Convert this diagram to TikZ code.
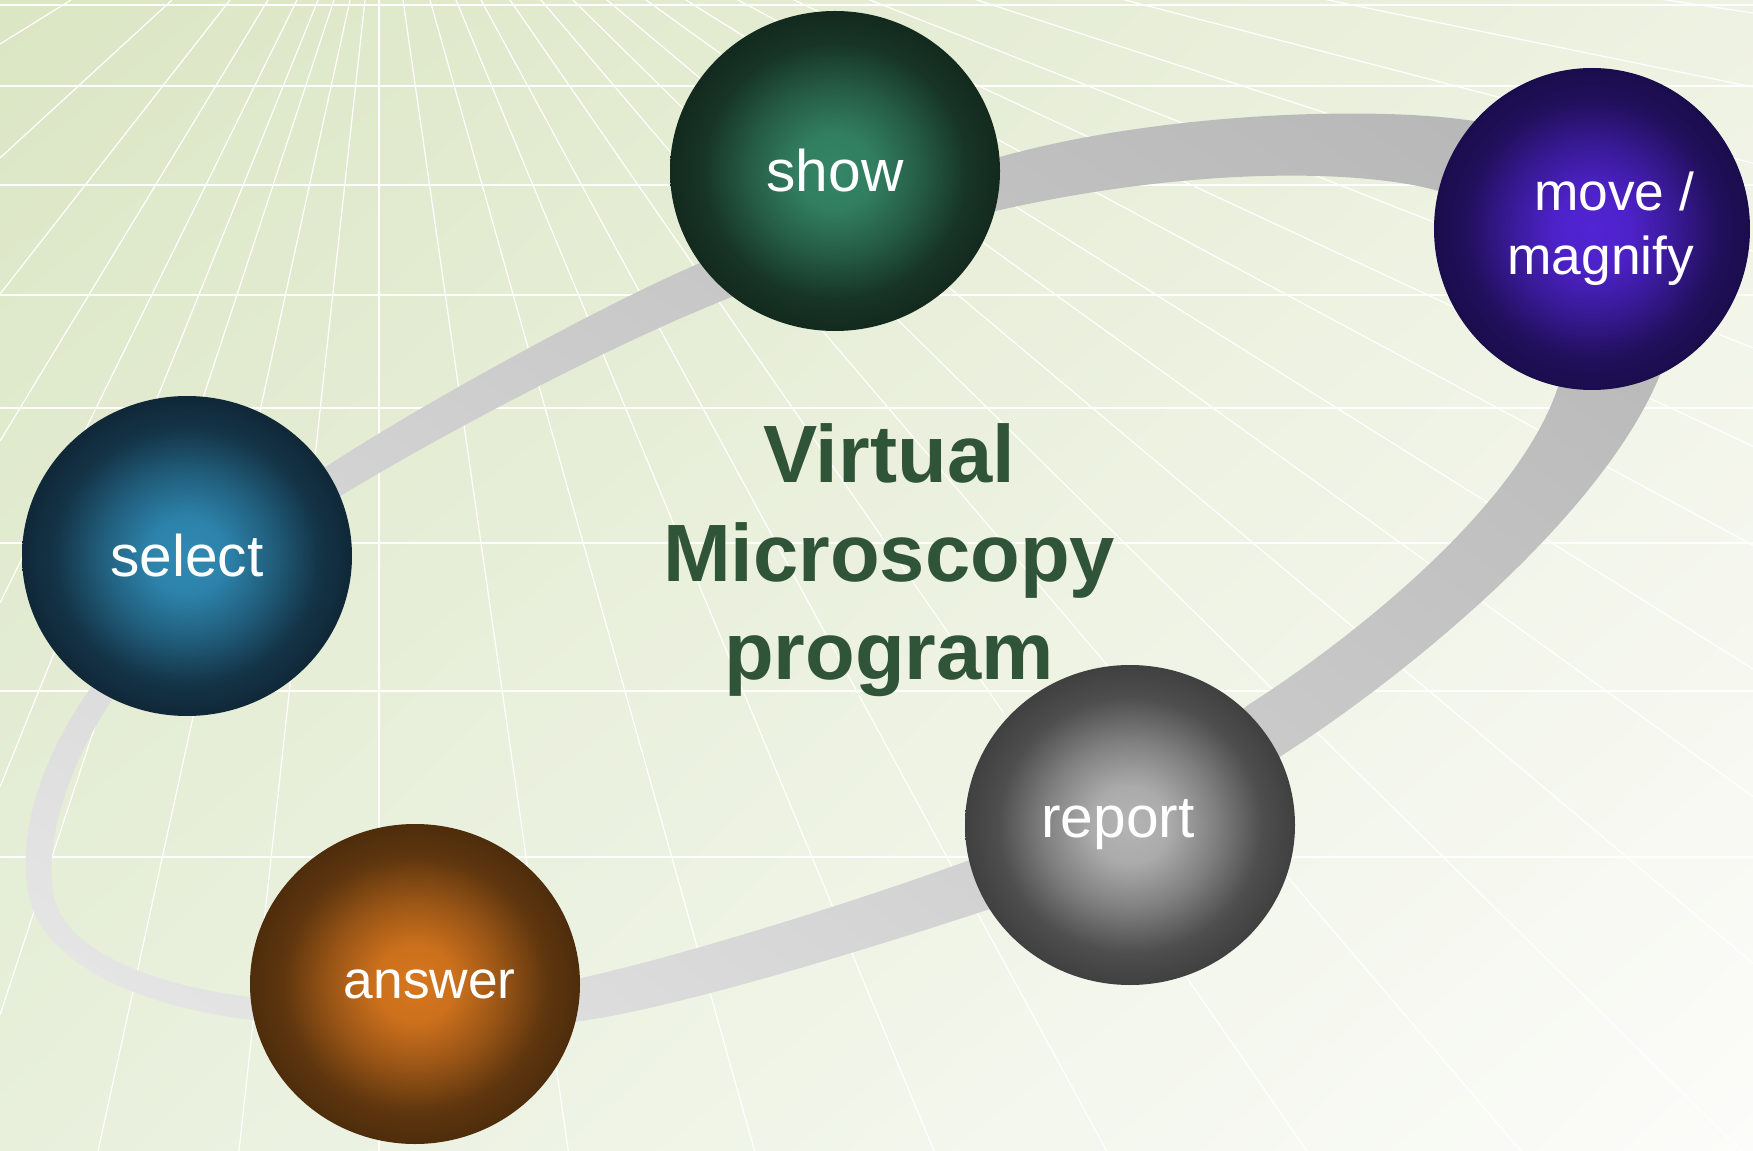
\documentclass[tikz,border=0pt]{standalone}
\usepackage{fontspec}
\setmainfont{Liberation Sans}
\usetikzlibrary{shapes.geometric,shadings}

\definecolor{bgul}{RGB}{219,230,196}
\definecolor{bgur}{RGB}{238,242,226}
\definecolor{bgll}{RGB}{232,240,220}
\definecolor{bglr}{RGB}{252,252,250}
\definecolor{ringul}{RGB}{205,205,205}
\definecolor{ringur}{RGB}{180,180,180}
\definecolor{ringll}{RGB}{232,232,232}
\definecolor{ringlr}{RGB}{200,200,200}
\definecolor{titlegreen}{RGB}{48,84,56}
\definecolor{showin}{RGB}{52,133,102}
\definecolor{showout}{RGB}{19,42,30}
\definecolor{movein}{RGB}{82,36,212}
\definecolor{moveout}{RGB}{26,13,76}
\definecolor{selectin}{RGB}{47,138,180}
\definecolor{selectout}{RGB}{16,40,56}
\definecolor{reportin}{RGB}{180,180,180}
\definecolor{reportout}{RGB}{64,64,64}
\definecolor{answerin}{RGB}{215,118,30}
\definecolor{answerout}{RGB}{78,45,12}

\pgfdeclareradialshading{showball}{\pgfpoint{0bp}{0bp}}{color(0bp)=(showin); color(6bp)=(showin!92!showout); color(13bp)=(showin!55!showout); color(20bp)=(showin!12!showout); color(25bp)=(showout); color(50bp)=(showout)}
\pgfdeclareradialshading{moveball}{\pgfpoint{0bp}{0bp}}{color(0bp)=(movein); color(6bp)=(movein!92!moveout); color(13bp)=(movein!55!moveout); color(20bp)=(movein!12!moveout); color(25bp)=(moveout); color(50bp)=(moveout)}
\pgfdeclareradialshading{selectball}{\pgfpoint{0bp}{0bp}}{color(0bp)=(selectin); color(6bp)=(selectin!92!selectout); color(13bp)=(selectin!55!selectout); color(20bp)=(selectin!12!selectout); color(25bp)=(selectout); color(50bp)=(selectout)}
\pgfdeclareradialshading{reportball}{\pgfpoint{0bp}{0bp}}{color(0bp)=(reportin); color(6bp)=(reportin!92!reportout); color(13bp)=(reportin!55!reportout); color(20bp)=(reportin!12!reportout); color(25bp)=(reportout); color(50bp)=(reportout)}
\pgfdeclareradialshading{answerball}{\pgfpoint{0bp}{0bp}}{color(0bp)=(answerin); color(6bp)=(answerin!92!answerout); color(13bp)=(answerin!55!answerout); color(20bp)=(answerin!12!answerout); color(25bp)=(answerout); color(50bp)=(answerout)}

\tikzset{every picture/.style={line width=0.75pt}}
\tikzset{
  gridline/.style={draw=white, line width=0.9pt},
  ball/.style={ellipse, shade, inner sep=0pt, minimum width=247.5pt, minimum height=240pt, text=white, font=\fontsize{44}{53}\selectfont},
}

\begin{document}
\begin{tikzpicture}[x=0.75pt,y=0.75pt,yscale=-1,xscale=1]
\useasboundingbox (0,0) rectangle (1753,1151);

%Shape: Rectangle [background]
\shade [upper left=bgul, upper right=bgur, lower left=bgll, lower right=bglr] (0,0) rectangle (1753,1151) ;

%Grid
\begin{scope}
\clip (0,0) rectangle (1753,1151) ;
\foreach \y in {5,86,185,295,408,543,691,857}
  \draw [gridline, line width=1.1pt] (0,\y) -- (1753,\y) ;
\foreach \a/\b/\c/\d in {71/0/0/44, 172/0/0/158, 230/0/0/294, 268/0/0/441, 297/0/0/603, 318/0/0/787, 334/0/0/1015, 350/0/98/1151, 365/0/239/1151, 379/0/379/1151}
  \draw [gridline] (\a,\b) -- (\c,\d) ;
\foreach \t in {403,430,456,481,510,541,573,607,646,686,738,794,870,977,1125,1328,1667}
  \draw [gridline] (375,-195) -- ({375+8*(\t-375)},1365) ;
\end{scope}

%Curve Lines [ring]
\shade [even odd rule, upper left=ringul, upper right=ringur, lower left=ringll, lower right=ringlr]
  (89,690) .. controls (40,760) and (15,840) .. (30,900) .. controls (45,960) and (130,1005) .. (252,1020)
  .. controls (374,1035) and (480,1035) .. (581,1021) .. controls (682,1007) and (880,945) .. (984,911)
  .. controls (1090,877) and (1200,808) .. (1281,756) .. controls (1400,680) and (1600,520) .. (1660,375)
  .. controls (1700,280) and (1600,140) .. (1480,122) .. controls (1380,105) and (1160,112) .. (1000,157)
  .. controls (900,185) and (800,220) .. (700,263) .. controls (600,306) and (420,405) .. (324,468)
  .. controls (230,530) and (130,620) .. (89,690) -- cycle
  (112,700) .. controls (65,770) and (42,850) .. (55,900) .. controls (68,950) and (150,985) .. (250,997)
  .. controls (350,1009) and (480,1000) .. (581,978) .. controls (682,956) and (860,900) .. (967,861)
  .. controls (1060,827) and (1180,760) .. (1248,705) .. controls (1350,640) and (1515,510) .. (1557,390)
  .. controls (1580,320) and (1520,215) .. (1442,192) .. controls (1370,170) and (1200,165) .. (1000,210)
  .. controls (900,232) and (800,268) .. (700,310) .. controls (600,352) and (450,430) .. (347,492)
  .. controls (250,550) and (150,620) .. (112,700) -- cycle ;

%Shape: Ellipse [select]
\node [ball, shading=selectball] (select) at (187,556) {select};
%Shape: Ellipse [show]
\node [ball, shading=showball] (show) at (835,171) {show};
%Shape: Ellipse [move]
\node [ball, shading=moveball, minimum width=237pt, minimum height=241.5pt, font=\fontsize{40}{48}\selectfont, align=right] (move) at (1592,229) {move /\\\hspace*{13pt}magnify};
%Shape: Ellipse [report]
\node [ball, shading=reportball] (report) at (1130,825) {report\hspace*{18pt}};
%Shape: Ellipse [answer]
\node [ball, shading=answerball, font=\fontsize{40}{48}\selectfont] (answer) at (415,984) {\hspace*{22pt}answer};

% Text Node
\node [anchor=north, align=center, inner sep=0pt, text=titlegreen, font=\fontsize{61}{74}\selectfont\bfseries] (title) at (889,423) {Virtual\\Microscopy\\program};

\end{tikzpicture}
\end{document}
